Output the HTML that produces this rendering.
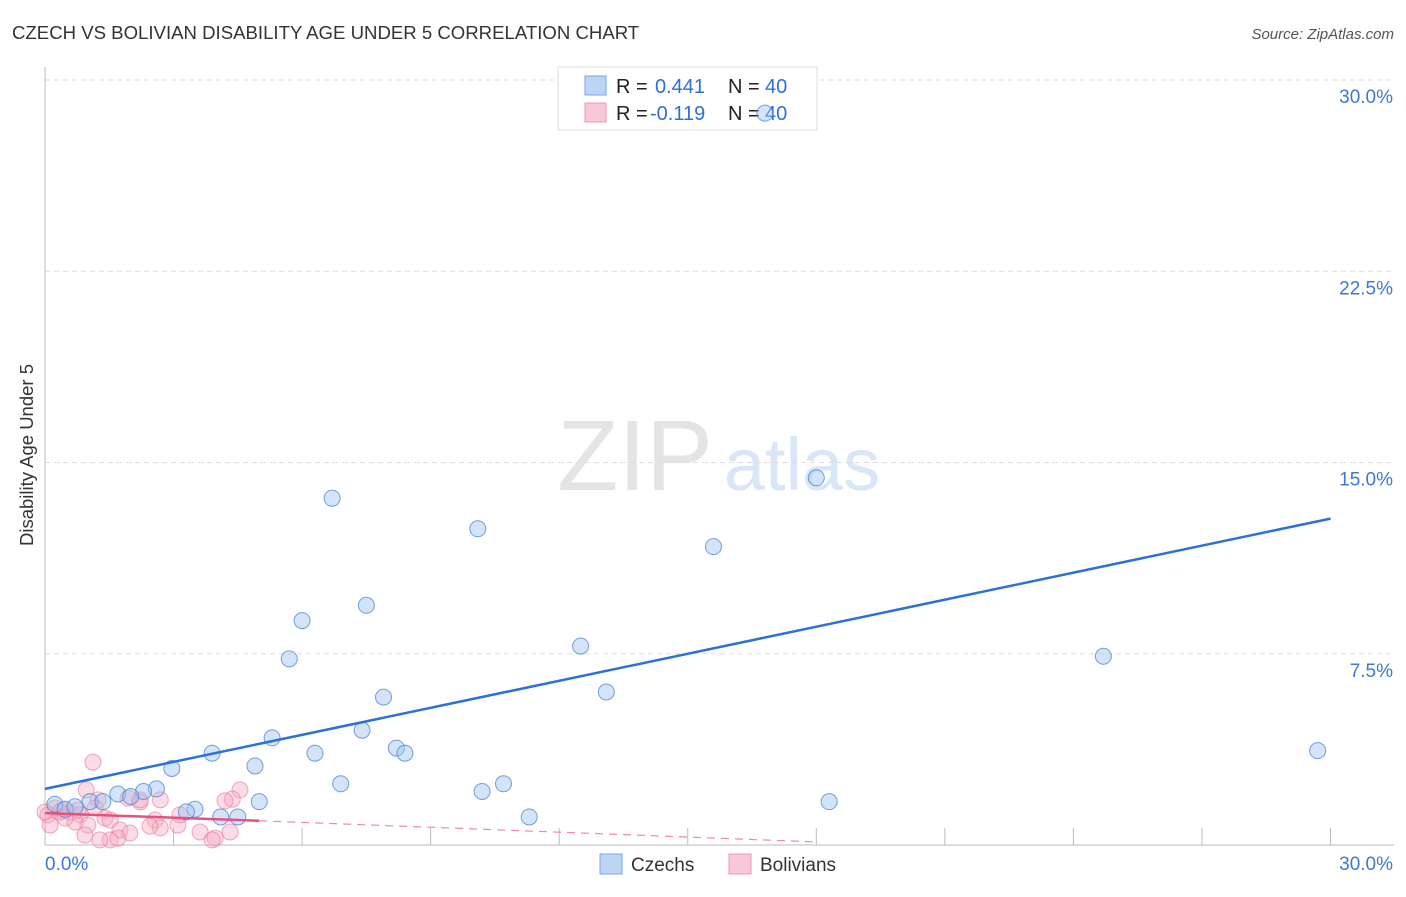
<!DOCTYPE html>
<html><head><meta charset="utf-8"><style>
body{margin:0;background:#fff;font-family:"Liberation Sans",sans-serif;}
svg text{font-family:"Liberation Sans",sans-serif;}
</style></head><body>
<svg id="chart" width="1406" height="892" viewBox="0 0 1406 892">
<text x="12" y="39" font-size="18.6" fill="#333">CZECH VS BOLIVIAN DISABILITY AGE UNDER 5 CORRELATION CHART</text>
<text x="1394" y="39" font-size="15" fill="#555" font-style="italic" text-anchor="end">Source: ZipAtlas.com</text>
<text x="33" y="455" font-size="18.5" fill="#333" text-anchor="middle" transform="rotate(-90 33 455)">Disability Age Under 5</text>
<g><text x="635" y="490" font-size="100" fill="#e4e4e4" font-family="Liberation Serif" text-anchor="middle">ZIP</text><text x="802" y="490" font-size="74" fill="#d8e6f7" text-anchor="middle">atlas</text></g>
<g id="grid"></g><g id="axes"></g>
<g>
<rect x="558" y="67" width="259" height="63" fill="#fff" stroke="#ddd"/>
<rect x="585" y="76" width="21" height="19" fill="#bcd5f5" stroke="#7aa6e6"/>
<rect x="585" y="103" width="21" height="19" fill="#f9c8d6" stroke="#ee9ab2"/>
<text x="616" y="93" font-size="20" fill="#222">R = </text><text x="655" y="93" font-size="20" fill="#2f6fd6">0.441</text>
<text x="728" y="93" font-size="20" fill="#222">N = </text><text x="765" y="93" font-size="20" fill="#2f6fd6">40</text>
<text x="616" y="120" font-size="20" fill="#222">R = </text><text x="650" y="120" font-size="20" fill="#2f6fd6">-0.119</text>
<text x="728" y="120" font-size="20" fill="#222">N = </text><text x="765" y="120" font-size="20" fill="#2f6fd6">40</text>
</g>
<g id="pts"></g><g id="lines"></g>
<g>
<rect x="600" y="854" width="22" height="20" fill="#bcd5f5" stroke="#7aa6e6"/>
<text x="631" y="871" font-size="19" fill="#333">Czechs</text>
<rect x="729" y="854" width="22" height="20" fill="#f9c8d6" stroke="#ee9ab2"/>
<text x="760" y="871" font-size="19" fill="#333">Bolivians</text>
</g>
</svg>
<script>
const yTicks=[7.5,15,22.5,30];
const yTickLabels=["7.5%","15.0%","22.5%","30.0%"];
const xTickLabels=["0.0%","30.0%"];
const czechX=[6.7,10.1,15.6,18.0,6.0,7.5,5.7,12.5,24.7,7.9,13.1,7.4,5.3,3.9,6.3,8.2,8.4,29.7,2.96,4.9,6.9,10.7,10.2,2.6,2.3,1.7,2.0,5.0,18.3,3.5,3.3,4.1,4.5,11.3,16.8,0.23,0.47,1.05,1.35,0.7];
const czechY=[13.6,12.4,11.7,14.4,8.8,9.4,7.3,7.8,7.4,5.8,6.0,4.5,4.2,3.6,3.6,3.8,3.6,3.7,3.0,3.1,2.4,2.4,2.1,2.2,2.1,2.0,1.9,1.7,1.7,1.4,1.3,1.1,1.1,1.1,28.7,1.6,1.4,1.7,1.7,1.5];
const bolX=[1.12,0.96,1.24,1.94,2.22,0.23,0.4,0.58,0.07,0.82,1.4,1.52,1.75,1.98,2.57,2.69,3.1,3.62,3.97,4.55,4.37,4.2,2.22,1.0,0.7,0.12,0.35,0.77,1.52,1.7,1.28,0.93,4.32,3.9,2.69,0.47,0.0,1.17,2.45,3.15];
const bolY=[3.25,2.16,1.77,1.84,1.69,1.45,1.37,1.29,1.18,1.18,1.06,0.98,0.59,0.47,0.98,0.67,0.78,0.51,0.27,2.16,1.8,1.73,1.77,0.78,0.9,0.78,1.29,1.37,0.2,0.27,0.2,0.39,0.51,0.2,1.77,1.06,1.29,1.45,0.74,1.18];
const blueTrend=[[0,2.2],[30,12.8]];
const pinkSolid=[[0,1.25],[5,0.95]];
const pinkDash=[[5,0.95],[18,0.12]];
const X=v=>45+v*42.85, Y=v=>845-v*25.5;
const NS="http://www.w3.org/2000/svg";
function mk(t,a,p){const e=document.createElementNS(NS,t);for(const k in a)e.setAttribute(k,a[k]);document.getElementById(p).appendChild(e);return e;}
yTicks.forEach((t,i)=>{
 const l=mk('line',{x1:45,x2:1394,y1:Y(t),y2:Y(t),stroke:'#ddd','stroke-dasharray':'5,4'},'grid');
 
 
 const tx=mk('text',{x:1393,y:Y(t)+23,'font-size':19,fill:'#3c78d8','text-anchor':'end'},'axes');tx.textContent=yTickLabels[i];
 
 
});
let a=mk('line',{x1:45,x2:45,y1:67,y2:845,stroke:'#bbb'},'axes');


a=mk('line',{x1:45,x2:1394,y1:845,y2:845,stroke:'#bbb'},'axes');


for(let k=1;k<=10;k++){const t=mk('line',{x1:X(k*3),x2:X(k*3),y1:828,y2:845,stroke:'#bbb'},'axes');
 
 }
[[0,'start',45],[30,'end',1393]].forEach((d,i)=>{const t=mk('text',{x:d[2],y:870,'font-size':19,fill:'#3c78d8','text-anchor':d[1]},'axes');t.textContent=xTickLabels[i];
 
 });
bolX.forEach((x,i)=>{const c=mk('circle',{cx:X(x),cy:Y(bolY[i]),r:8,fill:'rgba(246,168,192,0.4)',stroke:'rgba(235,130,160,0.7)'},'pts');
 
 });
czechX.forEach((x,i)=>{const c=mk('circle',{cx:X(x),cy:Y(czechY[i]),r:8,fill:'rgba(160,196,240,0.45)',stroke:'rgba(70,130,210,0.75)'},'pts');
 
 });
let ln=mk('line',{x1:X(blueTrend[0][0]),y1:Y(blueTrend[0][1]),x2:X(blueTrend[1][0]),y2:Y(blueTrend[1][1]),stroke:'#2a72d6','stroke-width':2.5},'lines');


ln=mk('line',{x1:X(pinkSolid[0][0]),y1:Y(pinkSolid[0][1]),x2:X(pinkSolid[1][0]),y2:Y(pinkSolid[1][1]),stroke:'#e8507d','stroke-width':2.5},'lines');


ln=mk('line',{x1:X(pinkDash[0][0]),y1:Y(pinkDash[0][1]),x2:X(pinkDash[1][0]),y2:Y(pinkDash[1][1]),stroke:'#ee8aa8','stroke-width':1.2,'stroke-dasharray':'8,6'},'lines');


</script>
</body></html>
